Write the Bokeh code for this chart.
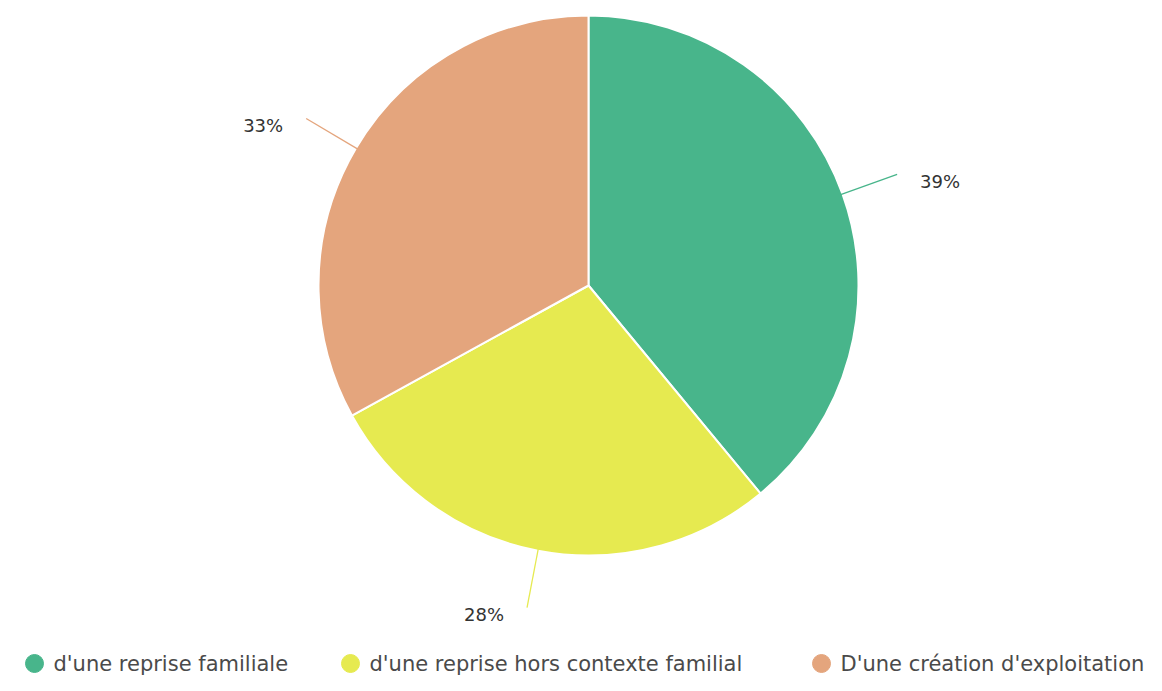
import math
from bokeh.plotting import figure
from bokeh.models import Range1d, ColumnDataSource
from bokeh.core.properties import value
from bokeh.embed import file_html
from bokeh.resources import INLINE

categories = ["d'une reprise familiale", "d'une reprise hors contexte familial", "D'une création d'exploitation"]
values = [39, 28, 33]
colors = ["#48b58b", "#e6ea50", "#e4a57d"]

W, H = 1146, 675
PAGE_H = 691
p = figure(width=W, height=H, output_backend="svg", toolbar_location=None,
           x_range=Range1d(0, W), y_range=Range1d(PAGE_H - H, PAGE_H),
           min_border=0)
p.axis.visible = False
p.grid.visible = False
p.outline_line_color = None

cx, cy, R = 588, PAGE_H - 285, 270
total = sum(values)
cum = 0
starts, ends, mids = [], [], []
for v in values:
    s = math.pi / 2 - 2 * math.pi * cum / total
    e = s - 2 * math.pi * v / total
    starts.append(s); ends.append(e); mids.append((s + e) / 2)
    cum += v

src = ColumnDataSource(dict(start=starts, end=ends, color=colors, cat=categories))
p.wedge(x=cx, y=cy, radius=R, start_angle="start", end_angle="end", direction="clock",
        fill_color="color", line_color="white", line_width=2, source=src)

# leader lines and labels
for v, m, c in zip(values, mids, colors):
    dx, dy = math.cos(m), math.sin(m)
    x0, y0 = cx + (R - 2) * dx, cy + (R - 2) * dy
    x1, y1 = cx + (R + 58) * dx, cy + (R + 58) * dy
    side = 1 if dx >= 0 else -1
    p.line([x0, x1], [y0, y1], line_color=c, line_width=1.3)
    p.text(x=[x1 + side * 23], y=[y1 - 7], text=[f"{v}%"],
           text_align="left" if side > 0 else "right", text_baseline="middle",
           text_font=value("DejaVu Sans"), text_font_size="18px", text_color="#333333")

# legend drawn manually
leg_circle_x = [34, 350, 821]
leg_y = PAGE_H - 663
p.scatter(x=leg_circle_x, y=[leg_y] * 3, size=18, fill_color=colors, line_color=colors)
p.text(x=[lx + 19 for lx in leg_circle_x], y=[leg_y] * 3, text=categories,
       text_align="left", text_baseline="middle",
       text_font=value("DejaVu Sans"), text_font_size="21px", text_color="#4a4a4a")

open("out.html", "w").write(file_html(p, INLINE))
